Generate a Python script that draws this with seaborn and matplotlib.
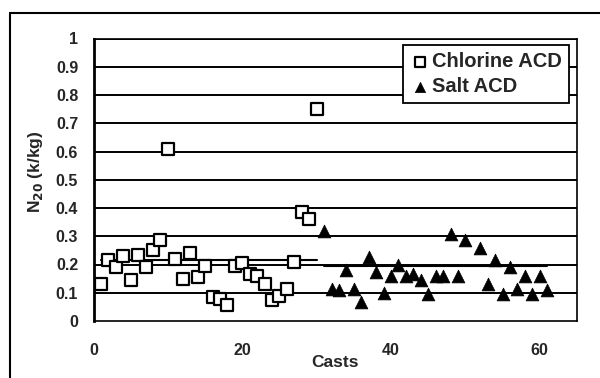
import numpy as np
import pandas as pd
import matplotlib
matplotlib.use("Agg")
import matplotlib.pyplot as plt
from matplotlib.lines import Line2D
from matplotlib.ticker import MultipleLocator, FixedLocator, FuncFormatter
import seaborn as sns

# N20 per cast for the two ACD types
chlorine_casts = list(range(1, 31))
chlorine_n20 = [0.13, 0.215, 0.19, 0.23, 0.145, 0.235, 0.19, 0.25, 0.285, 0.61,
                0.22, 0.15, 0.24, 0.155, 0.195, 0.085, 0.078, 0.055, 0.195, 0.205,
                0.165, 0.16, 0.13, 0.075, 0.09, 0.115, 0.21, 0.385, 0.36, 0.75]

salt_casts = [31, 32, 33, 34, 35, 36, 37, 38, 39, 40, 41, 42, 43, 44, 45,
              46, 47, 48, 49, 50, 52, 53, 54, 55, 56, 57, 58, 59, 60, 61]
salt_n20 = [0.318, 0.114, 0.108, 0.18, 0.114, 0.069, 0.226, 0.175, 0.10, 0.158,
            0.197, 0.158, 0.167, 0.144, 0.097, 0.161, 0.161, 0.309, 0.161, 0.288,
            0.258, 0.132, 0.215, 0.097, 0.191, 0.114, 0.161, 0.097, 0.158, 0.108]

# average levels drawn across each group of casts
chlorine_level = 0.217
salt_level = 0.195

series_names = ["Chlorine ACD", "Salt ACD"]
y_ticks = [0, 0.1, 0.2, 0.3, 0.4, 0.5, 0.6, 0.7, 0.8, 0.9, 1.0]
x_major = [0, 20, 40, 60]

sns.set_style("white")
plt.rcParams["font.family"] = ["Liberation Sans", "DejaVu Sans"]
plt.rcParams["font.weight"] = "bold"

fig = plt.figure(figsize=(6.0, 3.78), dpi=100)
W, H = 600, 378
left, right, top, bottom = 93.5, 577, 38.5, 321
ax = fig.add_axes([left / W, 1 - bottom / H, (right - left) / W, (bottom - top) / H])

chl = pd.DataFrame({"Casts": chlorine_casts, "N20": chlorine_n20})
slt = pd.DataFrame({"Casts": salt_casts, "N20": salt_n20})

# horizontal grid
for yv in y_ticks[1:]:
    ax.axhline(yv, color="black", lw=1.4, zorder=1)

# level lines
ax.plot([min(chlorine_casts), max(chlorine_casts)], [chlorine_level] * 2,
        color="black", lw=1.5, zorder=2)
ax.plot([min(salt_casts), max(salt_casts)], [salt_level] * 2,
        color="black", lw=1.5, zorder=2)

sns.scatterplot(data=chl, x="Casts", y="N20", marker="s", s=70,
                facecolor="white", edgecolor="black", linewidth=1.6,
                label=series_names[0], ax=ax, zorder=3)
sns.scatterplot(data=slt, x="Casts", y="N20", marker="^", s=85,
                color="black", edgecolor="black", linewidth=0.5,
                label=series_names[1], ax=ax, zorder=3)

ax.set_xlim(0, 65)
ax.set_ylim(0, 1)
ax.yaxis.set_major_locator(FixedLocator(y_ticks))
ax.yaxis.set_major_formatter(FuncFormatter(lambda v, p: f"{v:g}"))
ax.xaxis.set_major_locator(FixedLocator(x_major))
ax.xaxis.set_minor_locator(MultipleLocator(4))

ax.tick_params(axis="y", which="major", direction="out", length=5, width=1,
               color="black", labelsize=11.5, pad=6)
ax.tick_params(axis="x", which="major", direction="inout", length=6, width=1,
               color="black", labelsize=11.5, pad=13)
ax.tick_params(axis="x", which="minor", direction="inout", length=6, width=1,
               color="black")
for lab in ax.get_xticklabels() + ax.get_yticklabels():
    lab.set_fontweight("bold")

for side, sp in ax.spines.items():
    sp.set_visible(True)
    sp.set_color("black")
    sp.set_linewidth(1.2)
ax.spines["left"].set_linewidth(2)

ax.set_xlabel("Casts", fontsize=12.5, fontweight="bold")
ax.xaxis.set_label_coords(0.5, -0.12)
ax.set_ylabel(r"N$_{\mathbf{20}}$ (k/kg)", fontsize=12.5, fontweight="bold")
ax.yaxis.set_label_coords(-0.1, 0.53)

leg = ax.legend(loc="upper right", bbox_to_anchor=(0.983, 0.977),
                borderaxespad=0, frameon=True, fancybox=False,
                prop={"weight": "bold", "size": 14.5},
                handletextpad=0.1, handlelength=1.0, borderpad=0.35,
                labelspacing=0.3, markerscale=0.8)
leg.get_frame().set_edgecolor("black")
leg.get_frame().set_linewidth(1.3)
leg.get_frame().set_facecolor("white")
leg.get_frame().set_alpha(1)

# outer chart frame
fig.add_artist(Line2D([10 / W, 10 / W], [0, 1 - 12.5 / H], color="black", lw=1.5,
                      transform=fig.transFigure))
fig.add_artist(Line2D([10 / W, 1], [1 - 12.5 / H, 1 - 12.5 / H], color="black", lw=1.5,
                      transform=fig.transFigure))

fig.savefig("out.png", dpi=100)
